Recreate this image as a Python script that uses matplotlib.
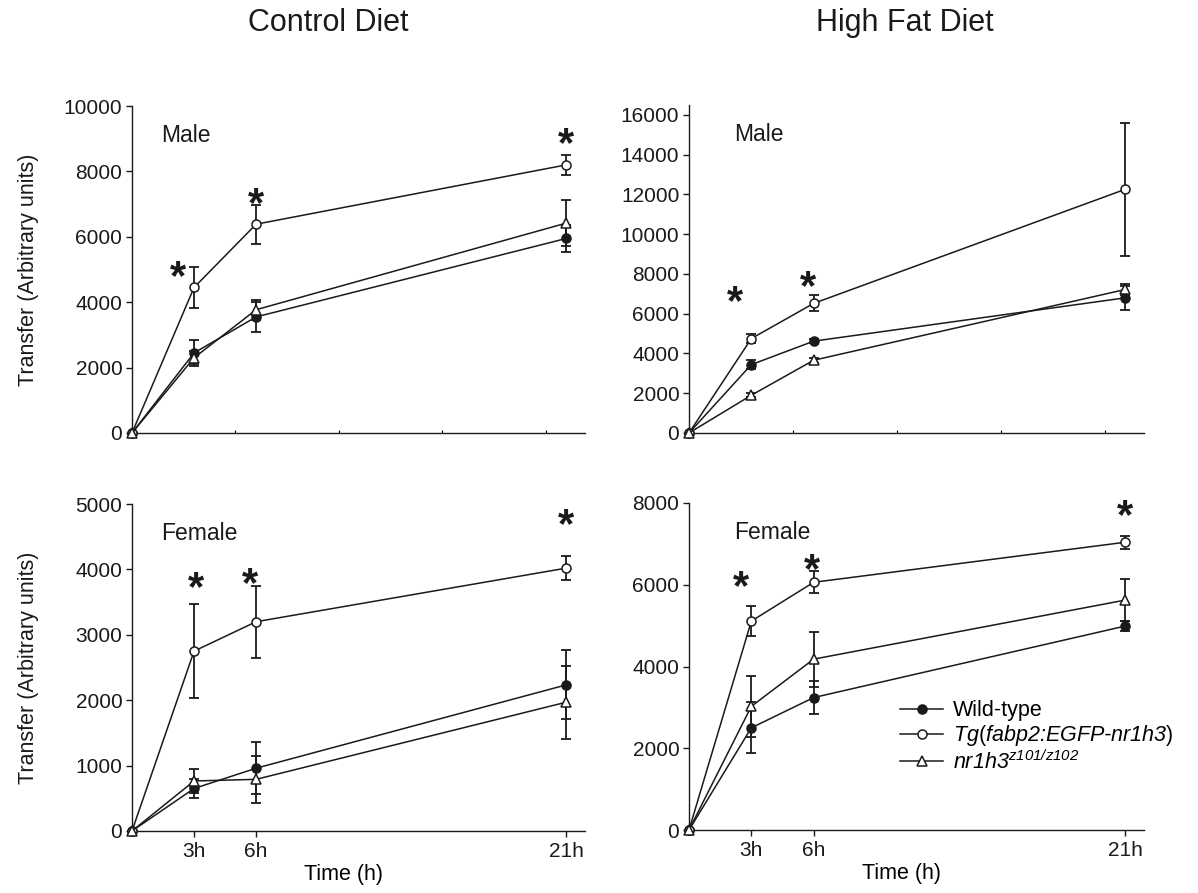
import numpy as np
import matplotlib.pyplot as plt
from matplotlib.ticker import FixedLocator

plt.rcParams['font.family'] = ['Liberation Sans', 'DejaVu Sans']
plt.rcParams['mathtext.fontset'] = 'custom'
plt.rcParams['mathtext.rm'] = 'Liberation Sans:italic'
plt.rcParams['mathtext.sf'] = 'Liberation Sans'
plt.rcParams['mathtext.it'] = 'Liberation Sans:italic'

hours = [0, 3, 6, 21]
hour_labels = ['3h', '6h', '21h']

# Control diet, male
cd_m_wt = [0, 2450, 3550, 5950]
cd_m_wt_err = [0, 400, 450, 400]
cd_m_tg = [0, 4450, 6385, 8200]
cd_m_tg_err = [0, 620, 590, 310]
cd_m_ko = [0, 2300, 3770, 6420]
cd_m_ko_err = [0, 200, 300, 700]

# High fat diet, male
hf_m_wt = [0, 3440, 4620, 6800]
hf_m_wt_err = [0, 220, 100, 600]
hf_m_tg = [0, 4750, 6520, 12260]
hf_m_tg_err = [0, 230, 400, 3350]
hf_m_ko = [0, 1900, 3660, 7220]
hf_m_ko_err = [0, 100, 130, 260]

# Control diet, female
cd_f_wt = [0, 650, 960, 2235]
cd_f_wt_err = [0, 140, 395, 530]
cd_f_tg = [0, 2750, 3200, 4020]
cd_f_tg_err = [0, 720, 550, 180]
cd_f_ko = [0, 765, 790, 1970]
cd_f_ko_err = [0, 190, 360, 560]

# High fat diet, female
hf_f_wt = [0, 2500, 3240, 4990]
hf_f_wt_err = [0, 620, 410, 130]
hf_f_tg = [0, 5110, 6060, 7040]
hf_f_tg_err = [0, 360, 265, 160]
hf_f_ko = [0, 3025, 4180, 5625]
hf_f_ko_err = [0, 740, 670, 515]

# significance stars (x in hours, y in units)
cd_m_star_x = [2.2, 6.0, 21.0]
cd_m_star_y = [5150, 7380, 9220]
hf_m_star_x = [2.2, 5.75]
hf_m_star_y = [7190, 7940]
cd_f_star_x = [3.1, 5.7, 21.0]
cd_f_star_y = [3900, 3960, 4870]
hf_f_star_x = [2.5, 5.9, 21.0]
hf_f_star_y = [6250, 6660, 7990]

W, H = 1198, 893
INK = '#1a1a1a'


def box(l, r, t, b):
    return [l / W, 1 - b / H, (r - l) / W, (b - t) / H]


def series(ax, y, err, marker, face, label):
    line, = ax.plot(hours, y, color=INK, lw=1.1, marker=marker, ms=7 if marker == '^' else 6.5,
                    mfc=face, mec=INK, mew=1.1, clip_on=False, zorder=3, label=label)
    ax.errorbar(hours[1:], y[1:], yerr=err[1:], fmt='none', ecolor=INK, elinewidth=1.3,
                capsize=3.8, capthick=1.3, zorder=2)
    return line


def panel(ax, wt, wt_err, tg, tg_err, ko, ko_err, ymax, yticks, sex, sex_x, sx, sy, bottom):
    handles = [series(ax, wt, wt_err, 'o', INK, 'Wild-type'),
               series(ax, tg, tg_err, 'o', 'white', r'Tg$\mathsf{(}$fabp2:EGFP-nr1h3$\mathsf{)}$'),
               series(ax, ko, ko_err, '^', 'white', r'nr1h3$^{\mathrm{z101/z102}}$')]
    ax.set_xlim(0, 21.9)
    ax.set_ylim(0, ymax)
    for s in ['top', 'right']:
        ax.spines[s].set_visible(False)
    for s in ['left', 'bottom']:
        ax.spines[s].set_linewidth(1.0)
        ax.spines[s].set_color(INK)
    ax.set_yticks(yticks)
    ax.tick_params(axis='y', direction='out', length=4, width=1, labelsize=15, pad=3, colors=INK)
    if bottom:
        ax.set_xticks(hours[1:])
        ax.set_xticklabels(hour_labels)
        ax.tick_params(axis='x', direction='out', length=4, width=1, labelsize=15, pad=4, colors=INK)
        ax.set_xlabel('Time (h)', fontsize=15.5)
        ax.xaxis.set_label_coords(0.466, -0.102)
    else:
        ax.set_xticks([])
        ax.xaxis.set_minor_locator(FixedLocator([5, 10, 15, 20]))
        ax.tick_params(axis='x', which='minor', direction='in', length=2.5, width=0.8)
    ax.text(sex_x, 0.91, sex, transform=ax.transAxes, fontsize=16.5, va='center', color=INK)
    for x, y in zip(sx, sy):
        ax.annotate('*', (x, y), xytext=(0, -17.5), textcoords='offset points',
                    ha='center', va='baseline', fontsize=30, fontweight='bold', color=INK)
    return handles


fig = plt.figure(figsize=(W / 100, H / 100), dpi=100)

ax1 = fig.add_axes(box(132, 585, 106, 433))
panel(ax1, cd_m_wt, cd_m_wt_err, cd_m_tg, cd_m_tg_err, cd_m_ko, cd_m_ko_err,
      10000, np.arange(0, 10001, 2000), 'Male', 0.064, cd_m_star_x, cd_m_star_y, False)

ax2 = fig.add_axes(box(689, 1144, 105, 433))
panel(ax2, hf_m_wt, hf_m_wt_err, hf_m_tg, hf_m_tg_err, hf_m_ko, hf_m_ko_err,
      16500, np.arange(0, 16001, 2000), 'Male', 0.10, hf_m_star_x, hf_m_star_y, False)

ax3 = fig.add_axes(box(132, 585, 504, 831))
panel(ax3, cd_f_wt, cd_f_wt_err, cd_f_tg, cd_f_tg_err, cd_f_ko, cd_f_ko_err,
      5000, np.arange(0, 5001, 1000), 'Female', 0.064, cd_f_star_x, cd_f_star_y, True)

ax4 = fig.add_axes(box(689, 1144, 503, 830))
handles = panel(ax4, hf_f_wt, hf_f_wt_err, hf_f_tg, hf_f_tg_err, hf_f_ko, hf_f_ko_err,
                8000, np.arange(0, 8001, 2000), 'Female', 0.10, hf_f_star_x, hf_f_star_y, True)

for ax in (ax1, ax3):
    ax.set_ylabel('Transfer (Arbitrary units)', fontsize=15.5, color=INK)
    ax.yaxis.set_label_coords(-0.205, 0.5)

leg = ax4.legend(handles=handles, loc='center left', bbox_to_anchor=(900 / W, 1 - 737 / H),
                 bbox_transform=fig.transFigure, frameon=False, fontsize=15.5,
                 handlelength=2.0, handletextpad=0.45, labelspacing=0.1, borderpad=0,
                 borderaxespad=0)
for t in leg.get_texts()[1:]:
    t.set_fontstyle('italic')

fig.text(328 / W, 1 - 23 / H, 'Control Diet', ha='center', va='center', fontsize=22, color=INK)
fig.text(905 / W, 1 - 23 / H, 'High Fat Diet', ha='center', va='center', fontsize=22, color=INK)

fig.savefig('out.png', dpi=100)
